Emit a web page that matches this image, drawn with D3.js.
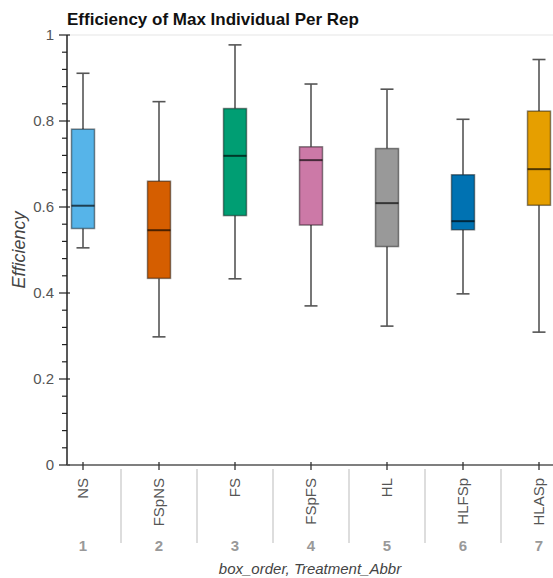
<!DOCTYPE html>
<html><head><meta charset="utf-8">
<script src="https://cdn.jsdelivr.net/npm/d3@7"></script>
<style>
body{margin:0;background:#fff;}
text{font-family:"Liberation Sans",Arial,Helvetica,sans-serif;}
</style></head>
<body><svg id="chart" width="553" height="578"></svg>
<script>
const categories = ["NS","FSpNS","FS","FSpFS","HL","HLFSp","HLASp"];
const orders = ["1","2","3","4","5","6","7"];
const whiskerLow  = [0.505,0.298,0.433,0.370,0.323,0.398,0.309];
const q1          = [0.550,0.434,0.580,0.558,0.508,0.547,0.604];
const medians     = [0.603,0.546,0.719,0.709,0.609,0.567,0.688];
const q3          = [0.781,0.660,0.829,0.740,0.736,0.675,0.823];
const whiskerHigh = [0.911,0.845,0.977,0.886,0.874,0.804,0.943];
const colors = ["#56B4E9","#D55E00","#009E73","#CC79A7","#999999","#0072B2","#E69F00"];
const yTicks = [0,0.2,0.4,0.6,0.8,1];
const yTickLabels = ["0","0.2","0.4","0.6","0.8","1"];

const svg = d3.select("#chart");
const pL = 67, pR = 553, pT = 35, pB = 465;

const y = d3.scaleLinear().domain([0,1]).range([pB, pT]);
const x = d3.scaleBand().domain(categories).range([45, 577]).paddingInner(0).paddingOuter(0);
const bw = 23, capW = 13;

// top border
svg.append("line").attr("x1",pL).attr("x2",pR).attr("y1",pT).attr("y2",pT)
  .attr("stroke","#eee").attr("stroke-width",1.5);

// title
svg.append("text").attr("x",67).attr("y",25).attr("font-size",17).attr("font-weight","bold")
  .attr("fill","#111").text("Efficiency of Max Individual Per Rep");

// y axis minor ticks
const minor = d3.range(0,1.0001,0.04).filter(v => !yTicks.some(t => Math.abs(t-v)<1e-6));
svg.append("g").selectAll("line").data(minor).join("line")
  .attr("x1",pL-5).attr("x2",pL).attr("y1",d=>y(d)).attr("y2",d=>y(d))
  .attr("stroke","#222").attr("stroke-width",1.2);
svg.append("g").selectAll("line").data(yTicks).join("line")
  .attr("x1",pL-8).attr("x2",pL+3).attr("y1",d=>y(d)).attr("y2",d=>y(d))
  .attr("stroke","#222").attr("stroke-width",1.2);
svg.append("g").selectAll("text").data(yTicks).join("text")
  .attr("x",54).attr("y",d=>y(d)).attr("dy","0.35em").attr("text-anchor","end")
  .attr("font-size",15).attr("fill","#555").text((d,i)=>yTickLabels[i]);
svg.append("line").attr("x1",pL).attr("x2",pL).attr("y1",pT).attr("y2",pB)
  .attr("stroke","#222").attr("stroke-width",1.5);

// y title
svg.append("text").attr("transform",`translate(25,${(pT+pB)/2}) rotate(-90)`)
  .attr("text-anchor","middle").attr("font-size",18).attr("font-style","italic")
  .attr("fill","#444").text("Efficiency");

// x axis
svg.append("line").attr("x1",pL).attr("x2",pR).attr("y1",pB).attr("y2",pB)
  .attr("stroke","#555").attr("stroke-width",1.5);
const cx = c => x(c) + x.bandwidth()/2;
svg.append("g").selectAll("line").data(categories).join("line")
  .attr("x1",cx).attr("x2",cx).attr("y1",pB-3).attr("y2",pB+5)
  .attr("stroke","#333").attr("stroke-width",1.3);
// separators
svg.append("g").selectAll("line").data(categories.slice(1)).join("line")
  .attr("x1",d=>x(d)).attr("x2",d=>x(d)).attr("y1",469).attr("y2",543)
  .attr("stroke","#ddd").attr("stroke-width",2);
// rotated labels
svg.append("g").selectAll("text").data(categories).join("text")
  .attr("transform",d=>`translate(${cx(d)},478) rotate(-90)`)
  .attr("dy","0.36em").attr("text-anchor","end").attr("font-size",15).attr("fill","#555")
  .text(d=>d);
svg.append("g").selectAll("text").data(categories).join("text")
  .attr("x",cx).attr("y",551).attr("text-anchor","middle").attr("font-size",15)
  .attr("font-weight","bold").attr("fill","#999").text((d,i)=>orders[i]);
svg.append("text").attr("x",(pL+pR)/2).attr("y",574).attr("text-anchor","middle")
  .attr("font-size",15).attr("font-style","italic").attr("fill","#444")
  .text("box_order, Treatment_Abbr");

// boxes
const g = svg.append("g").selectAll("g").data(categories).join("g");
g.append("line").attr("x1",cx).attr("x2",cx).attr("y1",(d,i)=>y(whiskerHigh[i])).attr("y2",(d,i)=>y(q3[i]))
  .attr("stroke","#555").attr("stroke-width",1.6);
g.append("line").attr("x1",cx).attr("x2",cx).attr("y1",(d,i)=>y(q1[i])).attr("y2",(d,i)=>y(whiskerLow[i]))
  .attr("stroke","#555").attr("stroke-width",1.6);
g.append("line").attr("x1",d=>cx(d)-capW/2).attr("x2",d=>cx(d)+capW/2)
  .attr("y1",(d,i)=>y(whiskerHigh[i])).attr("y2",(d,i)=>y(whiskerHigh[i]))
  .attr("stroke","#555").attr("stroke-width",1.6);
g.append("line").attr("x1",d=>cx(d)-capW/2).attr("x2",d=>cx(d)+capW/2)
  .attr("y1",(d,i)=>y(whiskerLow[i])).attr("y2",(d,i)=>y(whiskerLow[i]))
  .attr("stroke","#555").attr("stroke-width",1.6);
g.append("rect").attr("x",d=>cx(d)-bw/2).attr("width",bw)
  .attr("y",(d,i)=>y(q3[i])).attr("height",(d,i)=>y(q1[i])-y(q3[i]))
  .attr("fill",(d,i)=>colors[i]).attr("stroke","rgba(0,0,0,0.45)").attr("stroke-width",1.5);
g.append("line").attr("x1",d=>cx(d)-bw/2).attr("x2",d=>cx(d)+bw/2)
  .attr("y1",(d,i)=>y(medians[i])).attr("y2",(d,i)=>y(medians[i]))
  .attr("stroke","rgba(0,0,0,0.65)").attr("stroke-width",2);
</script></body></html>
